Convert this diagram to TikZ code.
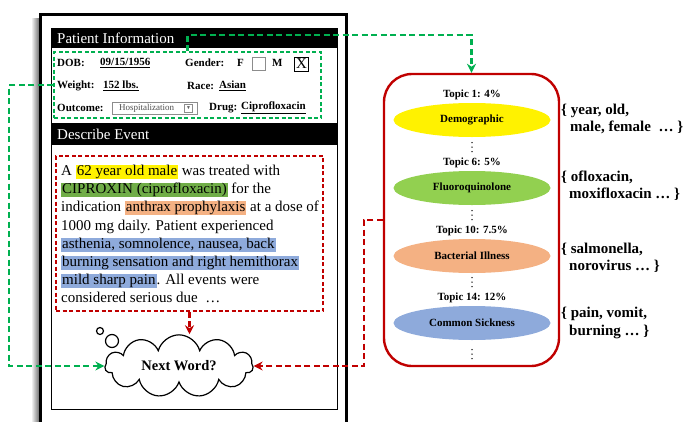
\documentclass[tikz,border=0pt]{standalone}
\usepackage{fontspec}
\usepackage{amssymb}
\setmainfont{Liberation Serif}
\usetikzlibrary{arrows.meta,shapes.geometric,shapes.symbols,positioning}

\definecolor{dashgreen}{HTML}{00B050}
\definecolor{dashred}{HTML}{C00000}
\definecolor{hlgreen}{HTML}{70AD47}
\definecolor{topicgreen}{HTML}{92D050}
\definecolor{topicorange}{HTML}{F4B183}
\definecolor{topicblue}{HTML}{8EAADB}

% highlighted phrase in the report text
\newcommand{\hlt}[2]{{\setlength{\fboxsep}{0pt}\colorbox{#1}{\rule[-3.5pt]{0pt}{14pt}\kern1pt#2\kern1pt}}}

\tikzset{
  field/.style={anchor=west, inner sep=0pt, font=\fontsize{11}{13}\selectfont\bfseries},
  flow/.style={dash pattern=on 6pt off 3.5pt, line width=2.2pt, -{Stealth[length=9pt,width=9pt]}},
  topic/.style={ellipse, minimum width=157pt, minimum height=34pt, inner sep=0pt, font=\fontsize{11}{13}\selectfont\bfseries},
  topiclabel/.style={inner sep=0pt, font=\fontsize{11}{13}\selectfont\bfseries},
  words/.style={anchor=west, align=left, inner sep=0pt, font=\fontsize{15}{17.5}\selectfont\bfseries},
}

\begin{document}
\begin{tikzpicture}[x=1pt,y=-1pt]
\useasboundingbox (0,0) rectangle (689,421);
\clip (0,0) rectangle (689,421);

% Report form
\shade[left color=white, right color=black!55] (31,18) rectangle (39,430);
\draw[line width=3pt] (40,14) rectangle (346,440);
\draw[line width=0.9pt] (51,28) rectangle (337,409);
\fill (51,28) rectangle (337,48);
\fill (51,123) rectangle (337,145);
\node[anchor=west, inner sep=0pt, text=white, font=\fontsize{15}{18}\selectfont] (pinfo) at (57,38.5) {Patient Information};
\node[anchor=west, inner sep=0pt, text=white, font=\fontsize{15}{18}\selectfont] (devent) at (57,134) {Describe Event};

% Patient fields
\node[field] (dob) at (57,63) {DOB:};
\node[field] (dobval) at (100,63) {\underline{09/15/1956}};
\node[field] (gender) at (185,63) {Gender:};
\node[field] (fem) at (237,63) {F};
\node[draw=black!45, line width=0.7pt, minimum size=13pt, inner sep=0pt] (fbox) at (259,63.5) {};
\node[field] (male) at (272,63) {M};
\node[draw, line width=0.8pt, minimum size=14pt, inner sep=0pt, font=\fontsize{15}{15}\selectfont] (mbox) at (301.5,64) {X};
\node[field] (weight) at (57,86) {Weight:};
\node[field] (weightval) at (103,86) {\underline{152 lbs.}};
\node[field] (race) at (187,86) {Race:};
\node[field] (raceval) at (219,86) {\underline{Asian}};
\node[field] (outcome) at (57,108) {Outcome:};
\node[draw=black!45, line width=0.7pt, minimum width=85pt, minimum height=12pt, inner sep=0pt] (outbox) at (154.5,108) {};
\node[anchor=west, inner sep=0pt, text=black!70, font=\fontsize{9}{10}\selectfont] (outtext) at (119,108) {Hospitalization};
\node[draw=black!45, line width=0.5pt, minimum size=8pt, inner sep=0pt, text=black!60, font=\tiny] (outarrow) at (188.5,108) {$\blacktriangledown$};
\node[field] (drug) at (209,108) {Drug:};
\node[field] (drugval) at (241,108) {\underline{Ciprofloxacin}};
\node[draw=dashgreen, dash pattern=on 4pt off 2.5pt, line width=1.4pt, minimum width=267pt, minimum height=66pt] (infobox) at (187.5,85) {};

% Event description
\node[draw=dashred, dash pattern=on 4pt off 2.5pt, line width=1.4pt, minimum width=267pt, minimum height=155pt] (eventbox) at (189.5,233.5) {};
\node[anchor=west, align=left, inner sep=0pt, font=\fontsize{15}{18.2}\selectfont] (story) at (61,234) {%
A \hlt{yellow}{62 year old male} was treated with\\
\hlt{hlgreen}{CIPROXIN (ciprofloxacin)} for the\\
indication \hlt{topicorange}{anthrax prophylaxis} at a dose of\\
1000 mg daily. Patient experienced\\
\hlt{topicblue}{asthenia, somnolence, nausea, back}\\
\hlt{topicblue}{burning sensation and right hemithorax}\\
\hlt{topicblue}{mild sharp pain}. All events were\\
considered serious due \ \ldots};

% Thought cloud
\node[cloud, draw, line width=1.2pt, cloud puffs=11, aspect=2.6, minimum width=148pt, minimum height=56pt, inner sep=0pt, font=\fontsize{14.5}{16}\selectfont\bfseries] (cloud) at (179,366) {Next Word?};
\node[circle, draw, line width=1.2pt, minimum size=7pt, inner sep=0pt] (bubble1) at (100,331) {};
\node[circle, draw, line width=1.2pt, minimum size=13pt, inner sep=0pt] (bubble2) at (112,341) {};

% Topics
\node[draw=dashred, line width=2.4pt, rounded corners=28pt, minimum width=175pt, minimum height=292pt] (topics) at (471.5,220) {};
\foreach \i/\y/\lab/\name/\col/\dy in {1/120/{Topic 1: 4\%}/Demographic/yellow/27,
    2/188/{Topic 6: 5\%}/Fluoroquinolone/topicgreen/27,
    3/256/{Topic 10: 7.5\%}/Bacterial Illness/topicorange/26,
    4/323/{Topic 14: 12\%}/Common Sickness/topicblue/31} {
  \node[topic, fill=\col] (topic\i) at (472,\y) {\name};
  \node[topiclabel] (tlabel\i) at (472,\y-25) {\lab};
  % vertical dots
  \foreach \k in {-1,0,1}
    \fill (472,\y+\dy+4.5*\k) circle (0.75pt);
}

% Topic words
\node[words] (words1) at (561,119) {\{ year, old,\\\hspace*{9pt}male, female \ \ldots\ \}};
\node[words] (words2) at (561,185.5) {\{ ofloxacin,\\\hspace*{8pt}moxifloxacin \ldots\ \}};
\node[words] (words3) at (561,258) {\{ salmonella,\\\hspace*{8pt}norovirus \ldots\ \}};
\node[words] (words4) at (561,323) {\{ pain, vomit,\\\hspace*{8pt}burning \ldots\ \}};

% Connectors
\draw[flow, dashgreen] (infobox.west) -- ++(-44,0) |- (cloud.west);
\draw[flow, dashgreen] (infobox.north) -- ++(0,-16) -| (topics.north);
\draw[flow, dashred] (eventbox.south) -- (eventbox.south |- cloud.north);
\draw[flow, dashred] (topics.west) -- ++(-19,0) |- (cloud.east);
\end{tikzpicture}
\end{document}
